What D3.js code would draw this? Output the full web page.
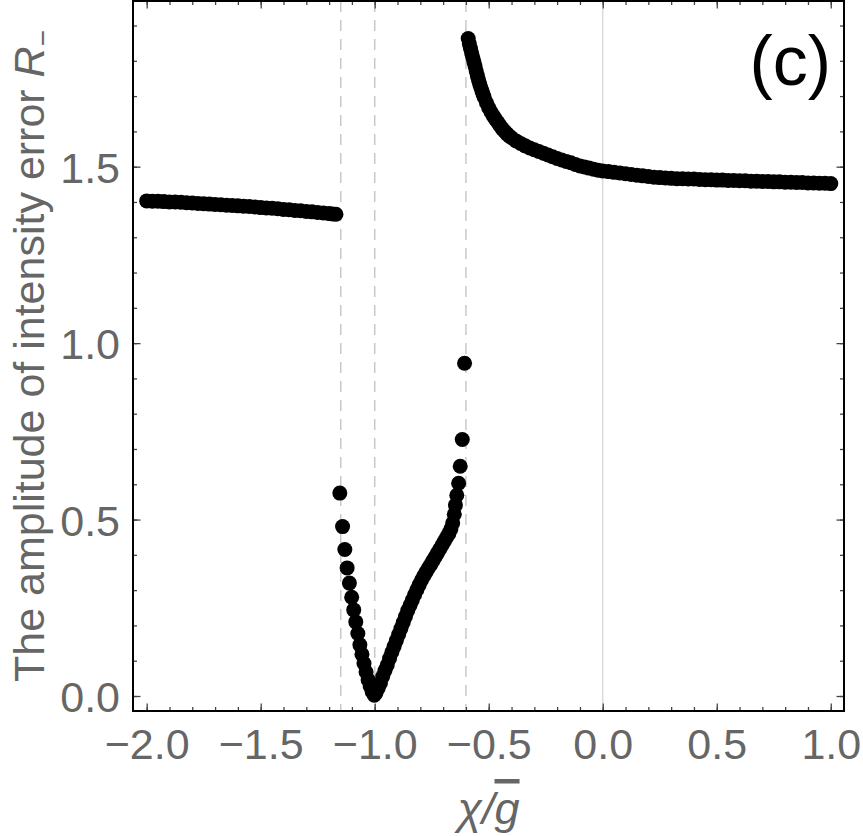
<!DOCTYPE html>
<meta charset="utf-8" />
<style>
  body {
    background: #fff;
    margin: 0px;
  }
  svg text {
    font-family: "Liberation Sans", Arial, sans-serif;
  }
  .tick-label text {
    fill: #666;
    font-size: 43px;
  }
  .frame {
    fill: none;
    stroke: #000;
    stroke-width: 2px;
  }
  .guide {
    stroke: #c8c8c8;
    stroke-width: 1.5px;
    stroke-dasharray: 11 8;
  }
  .zero-line {
    stroke: #d4d4d4;
    stroke-width: 1.2px;
  }
</style>
<body>
<script src="https://cdn.jsdelivr.net/npm/d3@7"></script>
<script>
  var width = 863,
    height = 836;

  // plot frame in pixels
  var frameLeft = 133,
    frameRight = 844,
    frameTop = 1,
    frameBottom = 711;

  // tick positions
  var xMajor = [-2, -1.5, -1, -0.5, 0, 0.5, 1];
  var yMajor = [0, 0.5, 1, 1.5];
  var xMinor = d3.range(-20, 11).map(function (i) { return i / 10; });
  var yMinor = d3.range(0, 20).map(function (i) { return i / 10; });

  // vertical guides: dashed at the singular points, solid at zero
  var dashedAt = [-1.149, -1.0, -0.6];
  var solidAt = [0];

  // branch left of the first singular point
  var leftFlat = [
    [-2.0, 1.403], [-1.975, 1.402], [-1.95, 1.402], [-1.925, 1.401], [-1.9, 1.4],
    [-1.875, 1.4], [-1.85, 1.399], [-1.825, 1.398], [-1.8, 1.397], [-1.775, 1.396],
    [-1.75, 1.395], [-1.725, 1.394], [-1.7, 1.393], [-1.675, 1.392], [-1.65, 1.391],
    [-1.625, 1.39], [-1.6, 1.389], [-1.575, 1.388], [-1.55, 1.387], [-1.525, 1.386],
    [-1.5, 1.384], [-1.475, 1.383], [-1.45, 1.382], [-1.425, 1.381], [-1.4, 1.379],
    [-1.375, 1.378], [-1.35, 1.376], [-1.325, 1.375], [-1.3, 1.373], [-1.275, 1.372],
    [-1.25, 1.37], [-1.225, 1.369], [-1.2, 1.367], [-1.185, 1.366], [-1.17, 1.365]
  ];

  // falling side of the dip
  var vLeft = [
    [-1.153, 0.575], [-1.141, 0.48], [-1.131, 0.415], [-1.121, 0.363], [-1.111, 0.32],
    [-1.101, 0.28], [-1.092, 0.244], [-1.083, 0.21], [-1.074, 0.177], [-1.065, 0.145],
    [-1.056, 0.118], [-1.047, 0.092], [-1.038, 0.068], [-1.029, 0.046], [-1.02, 0.028],
    [-1.011, 0.012], [-1.002, 0.002]
  ];

  // rising side of the dip
  var vRight = [
    [-0.995, 0.008], [-0.985, 0.022], [-0.975, 0.036], [-0.965, 0.055], [-0.955, 0.072],
    [-0.945, 0.088], [-0.935, 0.106], [-0.925, 0.124], [-0.915, 0.14], [-0.905, 0.157],
    [-0.895, 0.174], [-0.885, 0.191], [-0.875, 0.208], [-0.865, 0.225], [-0.855, 0.242],
    [-0.845, 0.257], [-0.835, 0.272], [-0.825, 0.287], [-0.815, 0.301], [-0.805, 0.315],
    [-0.795, 0.328], [-0.785, 0.34], [-0.775, 0.351], [-0.765, 0.362], [-0.755, 0.372],
    [-0.745, 0.383], [-0.735, 0.394], [-0.725, 0.405], [-0.715, 0.416], [-0.705, 0.427],
    [-0.695, 0.438], [-0.685, 0.449], [-0.675, 0.46], [-0.666, 0.473], [-0.658, 0.49],
    [-0.651, 0.515], [-0.646, 0.541], [-0.640, 0.569], [-0.632, 0.603], [-0.625, 0.651],
    [-0.616, 0.727], [-0.606, 0.943]
  ];

  // branch right of the second singular point
  var rightBranch = [
    [-0.59, 1.863], [-0.585, 1.848], [-0.58, 1.835], [-0.575, 1.822], [-0.57, 1.81],
    [-0.565, 1.797], [-0.56, 1.785], [-0.555, 1.771], [-0.55, 1.758], [-0.545, 1.746],
    [-0.54, 1.735], [-0.535, 1.725], [-0.53, 1.715], [-0.525, 1.706], [-0.52, 1.697],
    [-0.51, 1.681], [-0.5, 1.667], [-0.49, 1.655], [-0.48, 1.644], [-0.47, 1.634],
    [-0.46, 1.625], [-0.45, 1.616], [-0.44, 1.607], [-0.43, 1.6], [-0.42, 1.593],
    [-0.41, 1.587], [-0.4, 1.582], [-0.38, 1.573], [-0.36, 1.566], [-0.34, 1.559],
    [-0.32, 1.553], [-0.3, 1.548], [-0.28, 1.543], [-0.26, 1.538], [-0.24, 1.533],
    [-0.22, 1.528], [-0.2, 1.523], [-0.18, 1.519], [-0.16, 1.515], [-0.14, 1.511],
    [-0.12, 1.506], [-0.1, 1.502], [-0.08, 1.499], [-0.06, 1.496], [-0.04, 1.493],
    [-0.02, 1.49], [0.0, 1.488], [0.025, 1.486], [0.05, 1.484], [0.075, 1.482],
    [0.1, 1.48], [0.125, 1.478], [0.15, 1.476], [0.175, 1.474], [0.2, 1.472],
    [0.225, 1.47], [0.25, 1.469], [0.275, 1.468], [0.3, 1.467], [0.325, 1.466],
    [0.35, 1.466], [0.375, 1.465], [0.4, 1.465], [0.425, 1.464], [0.45, 1.463],
    [0.475, 1.463], [0.5, 1.462], [0.525, 1.462], [0.55, 1.461], [0.575, 1.461],
    [0.6, 1.46], [0.625, 1.46], [0.65, 1.459], [0.675, 1.459], [0.7, 1.458],
    [0.725, 1.458], [0.75, 1.457], [0.775, 1.457], [0.8, 1.456], [0.825, 1.456],
    [0.85, 1.455], [0.875, 1.455], [0.9, 1.454], [0.925, 1.454], [0.95, 1.453],
    [0.975, 1.453], [1.0, 1.452]
  ];

  var x = d3.scaleLinear().domain([-2.06, 1.058]).range([frameLeft, frameRight]);
  var y = d3.scaleLinear().domain([-0.0425, 1.9695]).range([frameBottom, frameTop]);

  var svg = d3
    .select("body")
    .append("svg")
    .attr("width", width)
    .attr("height", height);

  // guides
  svg
    .selectAll(".guide")
    .data(dashedAt)
    .enter()
    .append("line")
    .attr("class", "guide")
    .attr("x1", x)
    .attr("x2", x)
    .attr("y1", frameTop)
    .attr("y2", frameBottom);

  svg
    .selectAll(".zero-line")
    .data(solidAt)
    .enter()
    .append("line")
    .attr("class", "zero-line")
    .attr("x1", x)
    .attr("x2", x)
    .attr("y1", frameTop)
    .attr("y2", frameBottom);

  // points
  var allPoints = leftFlat.concat(vLeft, vRight, rightBranch);
  svg
    .append("g")
    .selectAll("circle")
    .data(allPoints)
    .enter()
    .append("circle")
    .attr("cx", function (d) { return x(d[0]); })
    .attr("cy", function (d) { return y(d[1]); })
    .attr("r", 7.5)
    .attr("fill", "#000");

  // ticks on all four sides, pointing inward
  function tickAxis(axis, ticks, size, transform) {
    var g = svg
      .append("g")
      .attr("transform", transform)
      .call(axis.tickValues(ticks).tickSize(-size).tickFormat(""));
    g.select(".domain").remove();
    g.selectAll(".tick line").attr("stroke", "#444").attr("stroke-width", 1.3);
    return g;
  }

  tickAxis(d3.axisBottom(x), xMinor, 4, "translate(0," + frameBottom + ")");
  tickAxis(d3.axisBottom(x), xMajor, 7.5, "translate(0," + frameBottom + ")");
  tickAxis(d3.axisTop(x), xMinor, 4, "translate(0," + frameTop + ")");
  tickAxis(d3.axisTop(x), xMajor, 7.5, "translate(0," + frameTop + ")");
  tickAxis(d3.axisLeft(y), yMinor, 4, "translate(" + frameLeft + ",0)");
  tickAxis(d3.axisLeft(y), yMajor, 7.5, "translate(" + frameLeft + ",0)");
  tickAxis(d3.axisRight(y), yMinor, 4, "translate(" + frameRight + ",0)");
  tickAxis(d3.axisRight(y), yMajor, 7.5, "translate(" + frameRight + ",0)");

  // tick labels
  var fmt = d3.format(".1f");
  var xLab = svg
    .append("g")
    .attr("class", "tick-label")
    .attr("transform", "translate(0," + frameBottom + ")")
    .call(d3.axisBottom(x).tickValues(xMajor).tickSize(0).tickPadding(0).tickFormat(fmt));
  xLab.select(".domain").remove();
  xLab.selectAll("text").attr("y", 48).attr("dy", null);

  var yLab = svg
    .append("g")
    .attr("class", "tick-label")
    .attr("transform", "translate(" + frameLeft + ",0)")
    .call(d3.axisLeft(y).tickValues(yMajor).tickSize(0).tickPadding(13).tickFormat(fmt));
  yLab.select(".domain").remove();
  yLab.selectAll("text").attr("dy", "0.36em");

  // frame
  svg
    .append("rect")
    .attr("class", "frame")
    .attr("x", frameLeft)
    .attr("y", frameTop)
    .attr("width", frameRight - frameLeft)
    .attr("height", frameBottom - frameTop);

  // axis titles
  var xTitle = svg
    .append("text")
    .attr("x", (frameLeft + frameRight) / 2)
    .attr("y", 824)
    .attr("text-anchor", "middle")
    .attr("fill", "#666")
    .style("font-size", "45px")
    .style("font-style", "italic");
  xTitle.append("tspan").text("χ/");
  xTitle.append("tspan").text("g").style("text-decoration", "overline");

  var yTitle = svg
    .append("text")
    .attr("transform", "translate(44," + (frameTop + frameBottom) / 2 + ") rotate(-90)")
    .attr("text-anchor", "middle")
    .attr("fill", "#666")
    .style("font-size", "43px");
  yTitle.append("tspan").text("The amplitude of intensity error ");
  yTitle.append("tspan").text("R").style("font-style", "italic");
  yTitle.append("tspan").text("−").style("font-size", "28px").attr("dy", "0.3em");

  svg
    .append("text")
    .attr("x", 831)
    .attr("y", 85)
    .attr("text-anchor", "end")
    .attr("fill", "#000")
    .style("font-size", "70px")
    .text("(c)");
</script>
</body>
